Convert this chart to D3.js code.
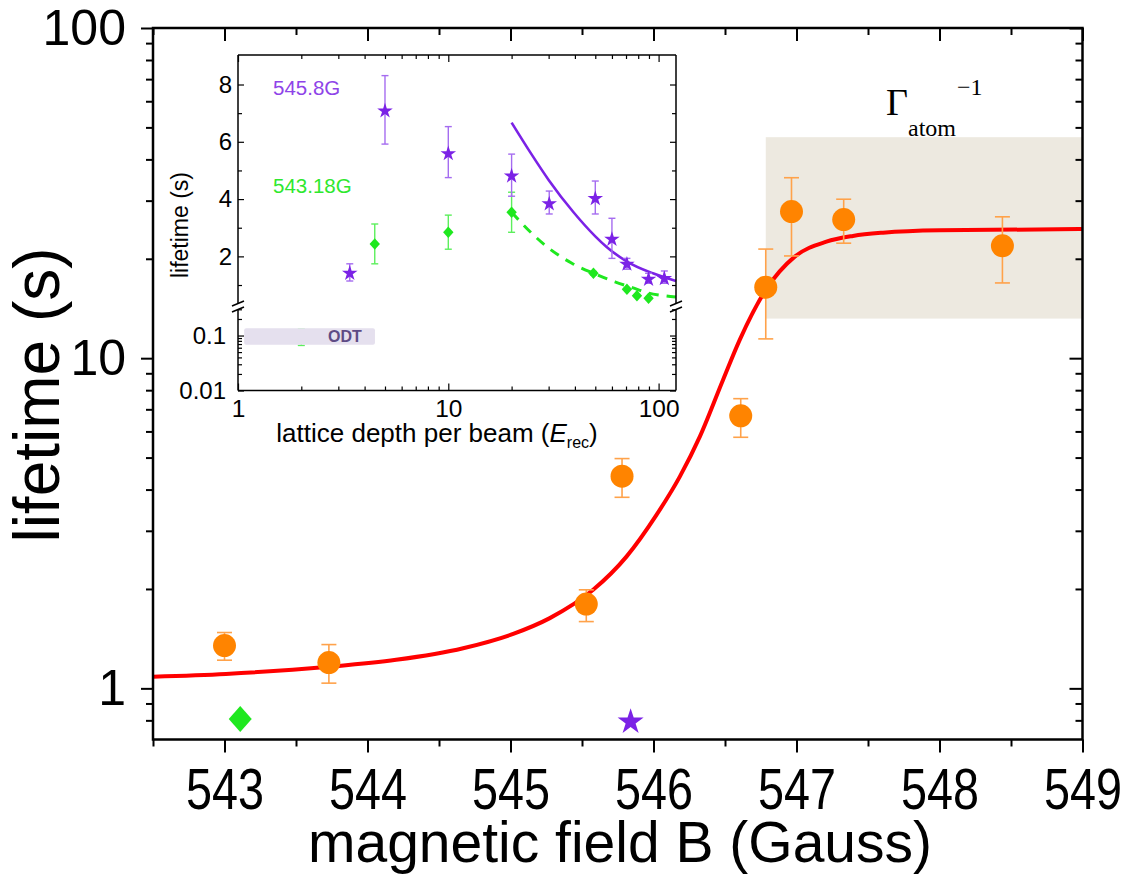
<!DOCTYPE html>
<html><head><meta charset="utf-8">
<script src="https://cdn.jsdelivr.net/npm/d3@7"></script>
<style>body{margin:0;background:#fff}</style>
</head><body>
<svg id="c" width="1136" height="879"></svg>
<script>
// ---------- main panel data ----------
const orangeB   = [543.0, 543.73, 545.53, 545.78, 546.61, 546.785, 546.965, 547.33, 548.44];
const orangeTau = [1.348, 1.197, 1.80, 4.39, 6.69, 16.4, 27.8, 26.3, 21.9];
const orangeLo  = [1.217, 1.037, 1.593, 3.79, 5.76, 11.44, 20.4, 22.3, 16.9];
const orangeHi  = [1.476, 1.357, 1.988, 4.965, 7.54, 21.4, 35.2, 30.3, 26.8];

const fitB   = [542.5, 543.01, 543.73, 544.2, 544.669, 545.019, 545.275, 545.578, 545.811, 546.021, 546.184, 546.324, 546.486, 546.603, 546.785, 546.988, 547.209, 547.395, 547.605, 548.001, 549.0];
const fitTau = [1.085, 1.106, 1.162, 1.22, 1.323, 1.462, 1.632, 1.988, 2.506, 3.353, 4.378, 5.787, 8.59, 11.36, 16.09, 20.30, 22.54, 23.46, 24.0, 24.4, 24.6];

const shadeB   = [546.785, 549];
const shadeTau = [13.18, 46.7];

const diamondB = [543.11], diamondTau = [0.807];
const starB = [545.84], starTau = [0.803];

const xMajor = [543, 544, 545, 546, 547, 548, 549];
const xMinor = [542.5, 543.5, 544.5, 545.5, 546.5, 547.5, 548.5];
const yMajor = [1, 10, 100];
const yMinor = [0.8, 0.9, 2, 3, 4, 5, 6, 7, 8, 9, 20, 30, 40, 50, 60, 70, 80, 90];

// ---------- inset data ----------
const purpleV  = [3.4, 5.0, 10, 20, 30.2, 50, 60, 70.7, 89.6, 106.5];
const purpleT  = [1.444, 7.11, 5.62, 4.84, 3.87, 4.05, 2.63, 1.76, 1.235, 1.26];
const purpleLo = [1.14, 5.92, 4.75, 4.1, 3.48, 3.48, 1.93, 1.55, 1.06, 1.06];
const purpleHi = [1.74, 8.31, 6.53, 5.57, 4.28, 4.63, 3.33, 1.93, 1.41, 1.49];

const greenV  = [2, 4.47, 10, 20, 49, 70.7, 78.9, 89.6];
const greenT  = [0.1, 2.43, 2.84, 3.54, 1.41, 0.85, 0.627, 0.536];
const greenLo = [0.066, 1.74, 2.25, 2.84, 1.35, 0.85, 0.627, 0.536];
const greenHi = [0.13, 3.13, 3.44, 4.24, 1.47, 0.85, 0.627, 0.536];

const fitPV = [20, 24.5, 30, 39.4, 50, 56.8, 70.7, 94.7, 121];
const fitPT = [6.67, 5.64, 4.67, 3.54, 2.70, 2.32, 1.82, 1.40, 1.14];
const fitGV = [20, 24.5, 29.4, 38.7, 49, 62, 75, 89.6, 103, 121];
const fitGT = [3.54, 2.86, 2.34, 1.76, 1.41, 1.11, 0.91, 0.72, 0.64, 0.58];

const odtV = [1.07, 4.48], odtT = [0.068, 0.135];

const ixMajor = [1, 10, 100];
const ixMinor = [2,3,4,5,6,7,8,9,20,30,40,50,60,70,80,90];
const iyUpMajor = [2, 4, 6, 8];
const iyUpMinor = [1, 3, 5, 7];
const iyLoMajor = [0.01, 0.1];
const iyLoMinor = [0.02,0.03,0.04,0.05,0.06,0.07,0.08,0.09,0.2,0.3];

// ---------- colours ----------
const ORANGE = '#ff8400', ORANGE_ERR = '#ffa24a', RED = '#ff0000';
const PURPLE = '#7b22e6', PURPLE_ERR = '#a56cf0', PURPLE_TXT = '#8e44e8';
const GREEN = '#1fe81f', GREEN_ERR = '#5cef5c', GREEN_TXT = '#2ee82e';
const SANS = "'Liberation Sans', Arial, sans-serif";
const SERIF = "'Liberation Serif', 'Times New Roman', serif";

const svg = d3.select('#c');
svg.append('rect').attr('width', 1136).attr('height', 879).attr('fill', '#fff');

// ---------- main scales ----------
const x = d3.scaleLinear().domain([542.5, 549]).range([153, 1082.5]);
const y = d3.scaleLog().domain([0.7, 100]).range([739.5, 28]);

svg.append('rect')
  .attr('x', x(shadeB[0])).attr('width', x(shadeB[1]) - x(shadeB[0]))
  .attr('y', y(shadeTau[1])).attr('height', y(shadeTau[0]) - y(shadeTau[1]))
  .attr('fill', '#ede9e0');

svg.append('path')
  .datum(fitB.map((b, i) => [b, fitTau[i]]))
  .attr('fill', 'none').attr('stroke', RED).attr('stroke-width', 4)
  .attr('d', d3.line().x(d => x(d[0])).y(d => y(d[1])).curve(d3.curveMonotoneX));

function errBars(g, xs, lo, hi, fx, fy, cap, color, w) {
  xs.forEach((v, i) => {
    if (hi[i] === lo[i]) return;
    const px = fx(v);
    g.append('line').attr('x1', px).attr('x2', px).attr('y1', fy(lo[i])).attr('y2', fy(hi[i]))
      .attr('stroke', color).attr('stroke-width', w);
    [lo[i], hi[i]].forEach(e => {
      g.append('line').attr('x1', px - cap).attr('x2', px + cap).attr('y1', fy(e)).attr('y2', fy(e))
        .attr('stroke', color).attr('stroke-width', w);
    });
  });
}
function diamond(cx, cy, hw, hh) {
  return `M${cx},${cy - hh}L${cx + hw},${cy}L${cx},${cy + hh}L${cx - hw},${cy}Z`;
}

const gMain = svg.append('g');
errBars(gMain, orangeB, orangeLo, orangeHi, x, y, 7.5, ORANGE_ERR, 1.6);
gMain.selectAll('circle.o').data(orangeB).join('circle')
  .attr('cx', d => x(d)).attr('cy', (d, i) => y(orangeTau[i])).attr('r', 11.5).attr('fill', ORANGE);

gMain.selectAll('path.dm').data(diamondB).join('path')
  .attr('d', (d, i) => diamond(x(d), y(diamondTau[i]), 11.5, 13)).attr('fill', GREEN);
gMain.selectAll('path.st').data(starB).join('path')
  .attr('transform', (d, i) => `translate(${x(d)},${y(starTau[i]) + 2})`)
  .attr('d', d3.symbol(d3.symbolStar, 210)()).attr('fill', PURPLE);

// ---------- main axes ----------
function styleAxis(g, fs, sx) {
  g.select('.domain').remove();
  g.selectAll('.tick line').attr('stroke', '#000').attr('stroke-width', 2);
  g.selectAll('.tick text').attr('font-family', SANS).attr('font-size', fs).attr('fill', '#000');
  if (sx) g.selectAll('.tick text').attr('transform', `scale(${sx},1)`);
}
const fmtInt = d3.format('d');
svg.append('g').attr('transform', 'translate(0,739.5)')
  .call(d3.axisBottom(x).tickValues(xMajor).tickSize(13).tickPadding(16).tickFormat(fmtInt))
  .call(g => styleAxis(g, 57, 0.82));
svg.append('g').attr('transform', 'translate(0,739.5)')
  .call(d3.axisBottom(x).tickValues(xMinor).tickSize(7).tickFormat(''))
  .call(g => styleAxis(g, 10));
svg.append('g').attr('transform', 'translate(0,28)')
  .call(d3.axisTop(x).tickValues(xMajor).tickSize(-13).tickFormat(''))
  .call(g => styleAxis(g, 10));
svg.append('g').attr('transform', 'translate(0,28)')
  .call(d3.axisTop(x).tickValues(xMinor).tickSize(-7).tickFormat(''))
  .call(g => styleAxis(g, 10));
svg.append('g').attr('transform', 'translate(153,0)')
  .call(d3.axisLeft(y).tickValues(yMajor).tickSize(12).tickPadding(15).tickFormat(fmtInt))
  .call(g => styleAxis(g, 50));
svg.append('g').attr('transform', 'translate(153,0)')
  .call(d3.axisLeft(y).tickValues(yMinor).tickSize(7).tickFormat(''))
  .call(g => styleAxis(g, 10));
svg.append('g').attr('transform', 'translate(1082.5,0)')
  .call(d3.axisRight(y).tickValues(yMajor).tickSize(-13).tickFormat(''))
  .call(g => styleAxis(g, 10));
svg.append('g').attr('transform', 'translate(1082.5,0)')
  .call(d3.axisRight(y).tickValues(yMinor).tickSize(-7).tickFormat(''))
  .call(g => styleAxis(g, 10));

svg.append('rect').attr('x', 153).attr('y', 28).attr('width', 1082.5 - 153).attr('height', 739.5 - 28)
  .attr('fill', 'none').attr('stroke', '#000').attr('stroke-width', 2.5);

svg.append('text').attr('x', 620).attr('y', 862).attr('text-anchor', 'middle')
  .attr('font-family', SANS).attr('font-size', 57).text('magnetic field B (Gauss)');
svg.append('text').attr('transform', 'rotate(-90)').attr('x', -395).attr('y', 59)
  .attr('text-anchor', 'middle').attr('font-family', SANS).attr('font-size', 64).text('lifetime (s)');

const gam = svg.append('text').attr('font-family', SERIF).attr('fill', '#000');
gam.append('tspan').attr('x', 886).attr('y', 115).attr('font-size', 38).text('Γ');
gam.append('tspan').attr('x', 908).attr('y', 136).attr('font-size', 24).text('atom');
gam.append('tspan').attr('x', 957).attr('y', 95).attr('font-size', 24).text('−1');

// ---------- inset ----------
const IL = 238, IR = 676, IT = 55, IB = 390.5, BRK = 307;
const xi = d3.scaleLog().domain([1, 121]).range([IL, IR]);
const yUp = d3.scaleLinear().domain([0.25, 9.03]).range([306.5, IT]);
const yLo = d3.scaleLog().domain([0.01, 0.3]).range([IB, 309.3]);
const yi = v => (v >= 0.25 ? yUp(v) : yLo(v));

svg.append('rect').attr('x', IL).attr('y', IT).attr('width', IR - IL).attr('height', IB - IT).attr('fill', '#fff');

const gIn = svg.append('g');
errBars(gIn, [greenV[0]], [greenLo[0]], [greenHi[0]], xi, yi, 3.5, GREEN_ERR, 1.4);
gIn.append('rect').attr('x', xi(odtV[0])).attr('width', xi(odtV[1]) - xi(odtV[0]))
  .attr('y', yLo(odtT[1])).attr('height', yLo(odtT[0]) - yLo(odtT[1]))
  .attr('rx', 2).attr('fill', '#e5e0ee');
gIn.append('text').attr('x', 345).attr('y', 342).attr('text-anchor', 'middle')
  .attr('font-family', SANS).attr('font-weight', 'bold').attr('font-size', 16)
  .attr('fill', '#5e4b85').text('ODT');

gIn.append('path').datum(fitPV.map((v, i) => [v, fitPT[i]]))
  .attr('fill', 'none').attr('stroke', PURPLE).attr('stroke-width', 2.6)
  .attr('d', d3.line().x(d => xi(d[0])).y(d => yi(d[1])).curve(d3.curveMonotoneX));
gIn.append('path').datum(fitGV.map((v, i) => [v, fitGT[i]]))
  .attr('fill', 'none').attr('stroke', GREEN).attr('stroke-width', 3)
  .attr('stroke-dasharray', '10,8')
  .attr('d', d3.line().x(d => xi(d[0])).y(d => yi(d[1])).curve(d3.curveMonotoneX));

const gv = greenV.slice(1), gt = greenT.slice(1), glo = greenLo.slice(1), ghi = greenHi.slice(1);
errBars(gIn, gv, glo, ghi, xi, yi, 3.5, GREEN_ERR, 1.4);
gIn.selectAll('path.gd').data(gv).join('path')
  .attr('d', (d, i) => diamond(xi(d), yi(gt[i]), 5.2, 5.8)).attr('fill', GREEN);
errBars(gIn, purpleV, purpleLo, purpleHi, xi, yi, 3.5, PURPLE_ERR, 1.4);
gIn.selectAll('path.ps').data(purpleV).join('path')
  .attr('transform', (d, i) => `translate(${xi(d)},${yi(purpleT[i]) + 1})`)
  .attr('d', d3.symbol(d3.symbolStar, 75)()).attr('fill', PURPLE);

function styleIn(g, fs) {
  g.select('.domain').remove();
  g.selectAll('.tick line').attr('stroke', '#000').attr('stroke-width', 1.2);
  g.selectAll('.tick text').attr('font-family', SANS).attr('font-size', fs).attr('fill', '#000');
}
const fmtG = d3.format('~g');
svg.append('g').attr('transform', `translate(0,${IB})`)
  .call(d3.axisBottom(xi).tickValues(ixMajor).tickSize(-7).tickPadding(9).tickFormat(fmtG))
  .call(g => styleIn(g, 24.5));
svg.append('g').attr('transform', `translate(0,${IB})`)
  .call(d3.axisBottom(xi).tickValues(ixMinor).tickSize(-4).tickFormat(''))
  .call(g => styleIn(g, 10));
svg.append('g').attr('transform', `translate(0,${IT})`)
  .call(d3.axisTop(xi).tickValues(ixMajor).tickSize(-7).tickFormat(''))
  .call(g => styleIn(g, 10));
svg.append('g').attr('transform', `translate(0,${IT})`)
  .call(d3.axisTop(xi).tickValues(ixMinor).tickSize(-4).tickFormat(''))
  .call(g => styleIn(g, 10));

[[yUp, iyUpMajor, iyUpMinor, 6], [yLo, iyLoMajor, iyLoMinor, 12]].forEach(([sc, maj, min, pad]) => {
  svg.append('g').attr('transform', `translate(${IL},0)`)
    .call(d3.axisLeft(sc).tickValues(maj).tickSize(-6).tickPadding(pad).tickFormat(fmtG))
    .call(g => styleIn(g, 24));
  svg.append('g').attr('transform', `translate(${IL},0)`)
    .call(d3.axisLeft(sc).tickValues(min).tickSize(-4).tickFormat(''))
    .call(g => styleIn(g, 10));
  svg.append('g').attr('transform', `translate(${IR},0)`)
    .call(d3.axisRight(sc).tickValues(maj).tickSize(-6).tickFormat(''))
    .call(g => styleIn(g, 10));
  svg.append('g').attr('transform', `translate(${IR},0)`)
    .call(d3.axisRight(sc).tickValues(min).tickSize(-4).tickFormat(''))
    .call(g => styleIn(g, 10));
});

const fr = svg.append('g').attr('stroke', '#000').attr('stroke-width', 1.5).attr('fill', 'none');
fr.append('line').attr('x1', IL).attr('x2', IR).attr('y1', IT).attr('y2', IT);
fr.append('line').attr('x1', IL).attr('x2', IR).attr('y1', IB).attr('y2', IB);
[IL, IR].forEach(xx => {
  fr.append('line').attr('x1', xx).attr('x2', xx).attr('y1', IT).attr('y2', BRK - 3);
  fr.append('line').attr('x1', xx).attr('x2', xx).attr('y1', BRK + 3).attr('y2', IB);
  fr.append('line').attr('x1', xx - 6).attr('x2', xx + 6).attr('y1', BRK - 1).attr('y2', BRK - 6);
  fr.append('line').attr('x1', xx - 6).attr('x2', xx + 6).attr('y1', BRK + 5).attr('y2', BRK);
});

const xt = svg.append('text').attr('x', 437).attr('y', 442).attr('text-anchor', 'middle')
  .attr('font-family', SANS).attr('font-size', 26);
xt.append('tspan').text('lattice depth per beam (');
xt.append('tspan').attr('font-style', 'italic').text('E');
xt.append('tspan').attr('font-size', 16).attr('dy', 6).text('rec');
xt.append('tspan').attr('dy', -6).text(')');
svg.append('text').attr('transform', 'rotate(-90)').attr('x', -225).attr('y', 188)
  .attr('text-anchor', 'middle').attr('font-family', SANS).attr('font-size', 23).text('lifetime (s)');
svg.append('text').attr('x', 273).attr('y', 95).attr('font-family', SANS).attr('font-size', 20.5)
  .attr('fill', PURPLE_TXT).text('545.8G');
svg.append('text').attr('x', 273).attr('y', 193).attr('font-family', SANS).attr('font-size', 20.5)
  .attr('fill', GREEN_TXT).text('543.18G');
</script>
</body></html>
